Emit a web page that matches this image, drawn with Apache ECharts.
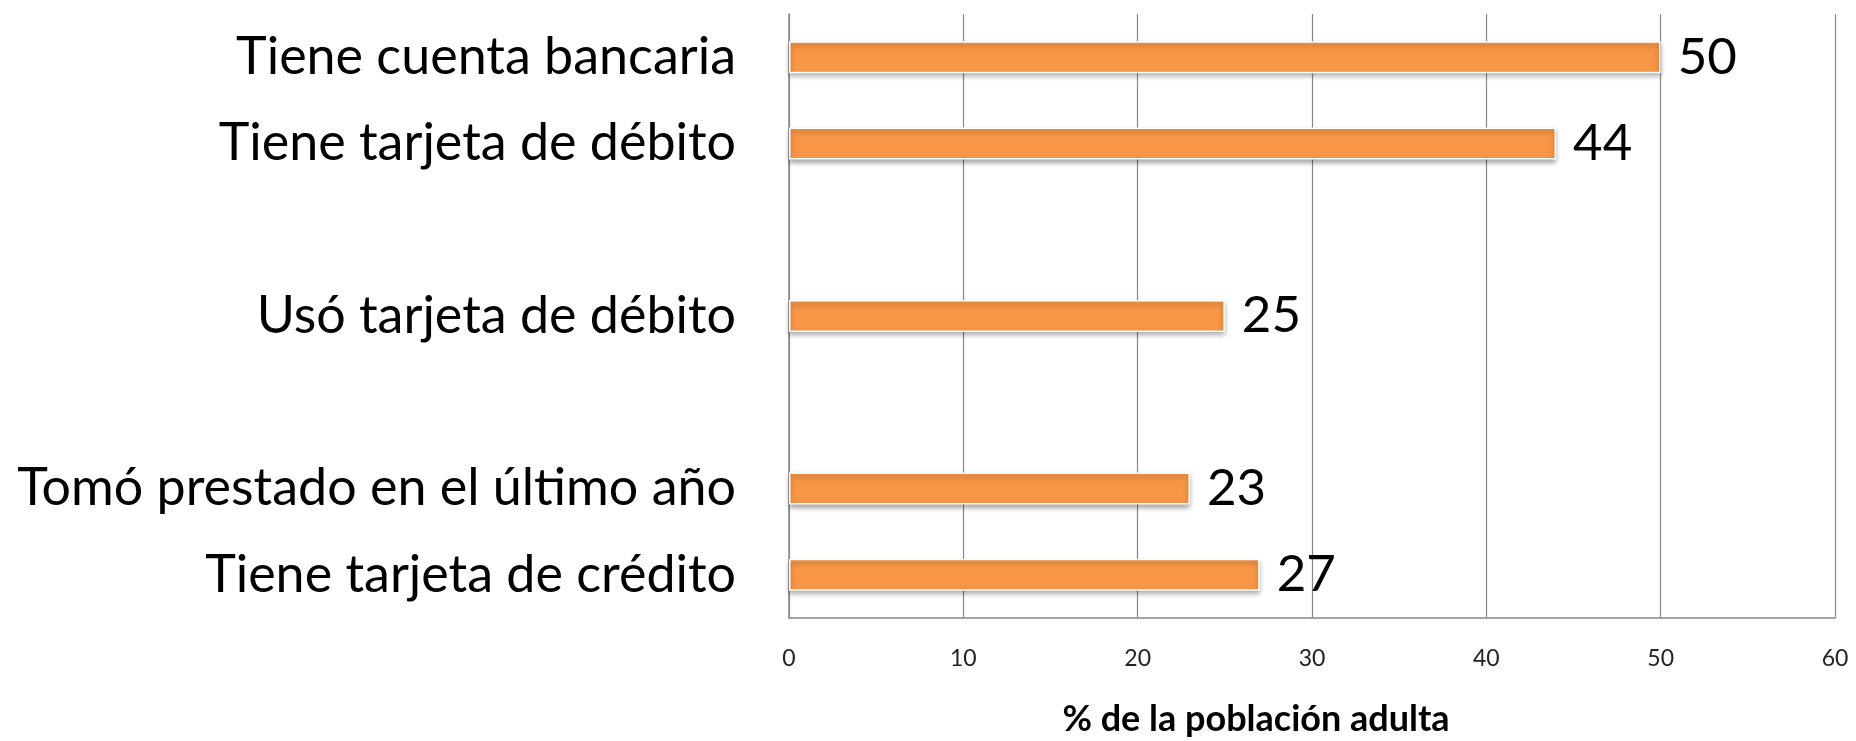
<!DOCTYPE html>
<html>
<head>
<meta charset="utf-8">
<script src="https://cdn.jsdelivr.net/npm/echarts@6/dist/echarts.min.js"></script>
<style>
  html, body { margin: 0; padding: 0; background: #fff; }
  #main { width: 1856px; height: 741px; }
</style>
</head>
<body>
<div id="main"></div>
<script>
// categories top to bottom, blanks are the gaps between groups
var categories = ['Tiene cuenta bancaria', 'Tiene tarjeta de débito', ' ', 'Usó tarjeta de débito', '  ', 'Tomó prestado en el último año', 'Tiene tarjeta de crédito'];
var values = [50, 44, '-', 25, '-', 23, 27];
var xTicks = [0, 10, 20, 30, 40, 50, 60];
var axisTitle = '% de la población adulta';

var dom = document.getElementById('main');
var chart = echarts.init(dom, null, { renderer: 'canvas' });

var font = 'Lato, "Open Sans", sans-serif';

var option = {
    animation: false,
    backgroundColor: '#fff',
    grid: {
        left: 789,
        right: 21,
        top: 14,
        bottom: 123
    },
    title: {
        text: axisTitle,
        left: 1251,
        top: 696,
        textAlign: 'center',
        textStyle: {
            fontFamily: font,
            fontSize: 36,
            fontWeight: 'bold',
            color: '#000'
        }
    },
    xAxis: {
        type: 'value',
        min: xTicks[0],
        max: xTicks[xTicks.length - 1],
        interval: 10,
        axisLine: { show: true, lineStyle: { color: '#888', width: 1.5 } },
        axisTick: { show: false },
        splitLine: { show: true, lineStyle: { color: '#888', width: 1.2 } },
        axisLabel: {
            margin: 29,
            fontFamily: font,
            fontSize: 23,
            color: '#222'
        }
    },
    yAxis: {
        type: 'category',
        inverse: true,
        data: categories,
        axisLine: { show: true, lineStyle: { color: '#888', width: 1.5 } },
        axisTick: { show: false },
        axisLabel: {
            margin: 53,
            fontFamily: font,
            fontSize: 52,
            color: '#000'
        }
    },
    series: [
        {
            type: 'bar',
            data: values,
            barWidth: 32,
            itemStyle: {
                color: '#F79646',
                borderColor: '#fff',
                borderWidth: 1.5,
                shadowColor: 'rgba(0, 0, 0, 0.35)',
                shadowBlur: 5,
                shadowOffsetY: 3
            },
            label: {
                show: true,
                position: 'right',
                distance: 17,
                fontFamily: font,
                fontSize: 51,
                color: '#000'
            }
        }
    ]
};

chart.setOption(option);
window.addEventListener('resize', chart.resize);
</script>
</body>
</html>
